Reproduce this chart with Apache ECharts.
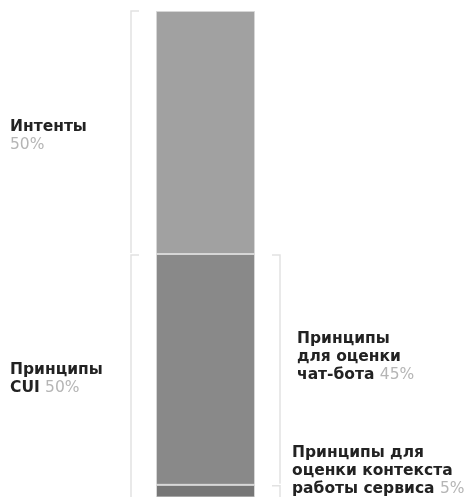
<!DOCTYPE html>
<html><head><meta charset="utf-8">
<script src="https://cdn.jsdelivr.net/npm/echarts@6/dist/echarts.min.js"></script>
<style>html,body{margin:0;padding:0;background:#fff}#c{width:469px;height:497px}</style>
</head><body><div id="c"></div>
<script>
// ---- data ----
const categories = ['Всего'];
const segmentNames = ['Интенты', 'Принципы для оценки чат-бота', 'Принципы для оценки контекста работы сервиса'];
const segmentValues = [50, 47.5, 5];
const leftGroupTitles = ['Интенты\n', 'Принципы\nCUI'];
const leftGroupPercents = ['50%', '50%'];
const leftGroupSegments = [[0], [1, 2]];
const rightGroupTitles = ['Принципы\nдля оценки\nчат-бота', 'Принципы для\nоценки контекста\nработы сервиса'];
const rightGroupPercents = ['45%', '5%'];
const rightGroupSegments = [[1], [2]];

// ---- styles ----
const segmentColors = ['#a1a1a1', '#898989', '#767676'];
const FONT = '"DejaVu Sans", sans-serif';
const AXIS_MAX = 100;

const cum = [0];
segmentValues.forEach((v, i) => cum.push(cum[i] + v));
function range(segs) { return [cum[segs[0]], cum[segs[segs.length - 1] + 1]]; }

function richText(title, pct) {
  const lines = title.split('\n');
  return lines.map((l, i) => {
    if (i !== lines.length - 1) return '{b|' + l + '}';
    return l === '' ? '{p|' + pct + '}' : '{b|' + l + ' }{p|' + pct + '}';
  }).join('\n');
}

const chart = echarts.init(document.getElementById('c'), null, { renderer: 'canvas' });

const barSeries = segmentNames.map((n, i) => ({
  name: n, type: 'bar', stack: 'total', barWidth: '100%',
  data: [segmentValues[i]],
  itemStyle: { color: segmentColors[i], borderColor: '#d6d6d6', borderWidth: 1 },
  silent: true, clip: true
}));

const lineStyle = { stroke: '#e2e2e2', lineWidth: 1.5, fill: null };

const decor = {
  type: 'custom', silent: true, clip: false, z: 5,
  data: [[0, 0]],
  renderItem: function (params, api) {
    const children = [];
    const center = api.coord([0, 0])[0];
    const half = api.size([1, 0])[0] / 2;
    const xl = center - half - 25, xr = center + half + 25;
    const rich = {
      b: { fontFamily: FONT, fontWeight: 'bold', fontSize: 15.5, fill: '#222', lineHeight: 18 },
      p: { fontFamily: FONT, fontWeight: 'normal', fontSize: 15.5, fill: '#b5b5b5', lineHeight: 18 }
    };
    const H = 497;
    leftGroupSegments.forEach((segs, i) => {
      const r = range(segs);
      const y0 = api.coord([0, r[0]])[1] + (i ? 1 : 0);
      const y1 = Math.min(api.coord([0, r[1]])[1] - 1, H + 5);
      children.push({ type: 'polyline', shape: { points: [[xl + 8, y0], [xl, y0], [xl, y1]] }, style: lineStyle });
      const yMid = (api.coord([0, r[0]])[1] + Math.min(api.coord([0, r[1]])[1], H)) / 2;
      children.push({ type: 'text', x: 10, y: yMid + 3, style: { text: richText(leftGroupTitles[i], leftGroupPercents[i]), rich: rich, verticalAlign: 'middle', align: 'left' } });
    });
    rightGroupSegments.forEach((segs, i) => {
      const r = range(segs);
      const y0 = api.coord([0, r[0]])[1] + 1;
      const y1 = Math.min(api.coord([0, r[1]])[1] - 1, H + 5);
      children.push({ type: 'polyline', shape: { points: [[xr - 8, y0], [xr, y0], [xr, y1]] }, style: lineStyle });
      const yMid = (api.coord([0, r[0]])[1] + Math.min(api.coord([0, r[1]])[1], H)) / 2;
      const txt = richText(rightGroupTitles[i], rightGroupPercents[i]);
      if (i === 0) {
        children.push({ type: 'text', x: xr + 17, y: yMid - 12, style: { text: txt, rich: rich, verticalAlign: 'middle', align: 'left' } });
      } else {
        children.push({ type: 'text', x: xr + 12, y: H + 1, style: { text: txt, rich: rich, verticalAlign: 'bottom', align: 'left' } });
      }
    });
    return { type: 'group', children: children };
  }
};

chart.setOption({
  animation: false,
  backgroundColor: '#ffffff',
  grid: { left: 156, width: 99, top: 11, bottom: 0 },
  xAxis: { type: 'category', data: categories, show: false },
  yAxis: { type: 'value', inverse: true, min: 0, max: AXIS_MAX, show: false },
  series: barSeries.concat([decor])
});
</script>
</body></html>
